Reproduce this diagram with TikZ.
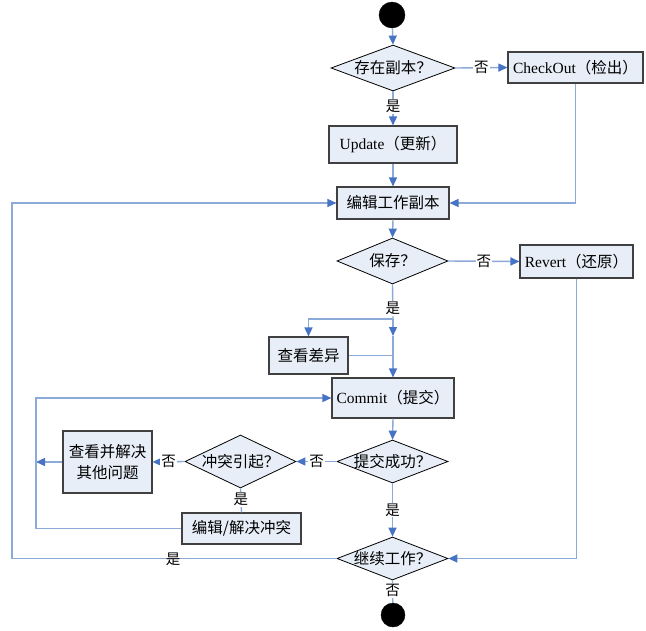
\documentclass[tikz,border=0pt]{standalone}
\usepackage{fontspec}
\setmainfont{Liberation Serif}
\newfontfamily\cjk{Noto Sans CJK SC}
\usetikzlibrary{shapes.geometric,arrows.meta,calc}
\definecolor{boxfill}{RGB}{232,238,248}
\definecolor{linec}{RGB}{140,170,215}
\definecolor{arrowc}{RGB}{70,115,195}
\begin{document}
\begin{tikzpicture}[x=1pt,y=-1pt,
  font=\fontsize{15.5}{18}\selectfont,
  box/.style={draw=black!75, line width=1.1pt, fill=boxfill, rectangle, inner sep=0pt, align=center},
  dia/.style={draw=black, line width=0.8pt, fill=boxfill, diamond, inner sep=0pt},
  dot/.style={circle, fill=black, draw=black, inner sep=0pt},
  conn/.style={draw=linec, line width=1.4pt},
  arr/.style={conn, -{Triangle[length=9pt,width=8pt,color=arrowc]}},
  lab/.style={fill=white, inner sep=1pt, font=\cjk\fontsize{14.5}{16}\selectfont}
]
\useasboundingbox (0,0) rectangle (646,630);

% nodes
\node[dot, minimum size=26pt] (start) at (392,15) {};
\node[dia, minimum width=124pt, minimum height=46pt] (d1) at (393,68) {};
\node at (d1) {\cjk 存在副本？};
\node[box, minimum width=135pt, minimum height=31pt] (checkout) at (575.5,67.5) {CheckOut{\cjk（检出）}};
\node[box, minimum width=128pt, minimum height=37pt] (update) at (393,144.5) {Update{\cjk（更新）}};
\node[box, minimum width=112pt, minimum height=32pt] (edit) at (393,203) {\cjk 编辑工作副本};
\node[dia, minimum width=111pt, minimum height=46pt] (d2) at (392.5,261) {};
\node at (d2) {\cjk 保存？};
\node[box, minimum width=113pt, minimum height=33pt] (revert) at (576.5,261.5) {Revert{\cjk（还原）}};
\node[box, minimum width=79pt, minimum height=37pt] (chakan) at (308.5,355.5) {\cjk 查看差异};
\node[box, minimum width=122pt, minimum height=40pt] (commit) at (393,398) {Commit{\cjk（提交）}};
\node[dia, minimum width=111pt, minimum height=43pt] (d3) at (392.5,461.5) {};
\node at (d3) {\cjk 提交成功？};
\node[dia, minimum width=111pt, minimum height=53pt] (d5) at (240.5,461.5) {};
\node at (d5) {\cjk 冲突引起？};
\node[box, minimum width=89pt, minimum height=62pt, font=\cjk\fontsize{15.5}{21}\selectfont] (other) at (107.5,462) {查看并解决\\其他问题};
\node[box, minimum width=119pt, minimum height=31pt] (resolve) at (241.5,528.5) {\cjk 编辑/解决冲突};
\node[dia, minimum width=111pt, minimum height=43pt] (d4) at (392.5,558.5) {};
\node at (d4) {\cjk 继续工作？};
\node[dot, minimum size=24pt] (stop) at (393,615) {};

\coordinate (L1) at (12,300);
\coordinate (L2) at (36,462);
\coordinate (B) at (393,319);
\coordinate (M) at (393,336);

% connectors
\draw[arr] (start) -- (d1.north);
\draw[arr] (d1.east) -- node[lab]{否} (checkout.west);
\draw[arr] (d1.south) -- node[lab, pos=0.45]{是} (update.north);
\draw[arr] (update.south) -- (edit.north);
\draw[arr] (checkout.south) |- (edit.east);
\draw[arr] (edit.south) -- (d2.north);
\draw[arr] (d2.east) -- node[lab]{否} (revert.west);
\draw[arr] (revert.south) |- (d4.east);
\draw[conn] (d2.south) -- node[lab, pos=0.7]{是} (B);
\draw[arr] (B) -| (chakan.north);
\draw[arr] (B) -- (M);
\draw[arr] (M) -- (commit.north);
\draw[conn] (chakan.east) -- (chakan.east -| commit.north);
\draw[arr] (commit.south) -- (d3.north);
\draw[arr] (d3.west) -- node[lab]{否} (d5.east);
\draw[arr] (d5.west) -- node[lab]{否} (other.east);
\draw[arr] (other.west) -- (L2);
\draw[conn] (d5.south) -- node[lab, pos=0.45]{是} (resolve.north);
\draw[arr] (resolve.west) -- (resolve.west -| L2) |- (commit.west);
\draw[arr] (d3.south) -- node[lab, pos=0.5]{是} (d4.north);
\draw[arr] (d4.west) -- (d4.west -| L1) |- (edit.west);
\node[font=\cjk\fontsize{14.5}{16}\selectfont, inner sep=0pt] at (173,559) {是};
\draw[conn] (d4.south) -- node[lab, pos=0.45]{否} (stop);
\end{tikzpicture}
\end{document}
